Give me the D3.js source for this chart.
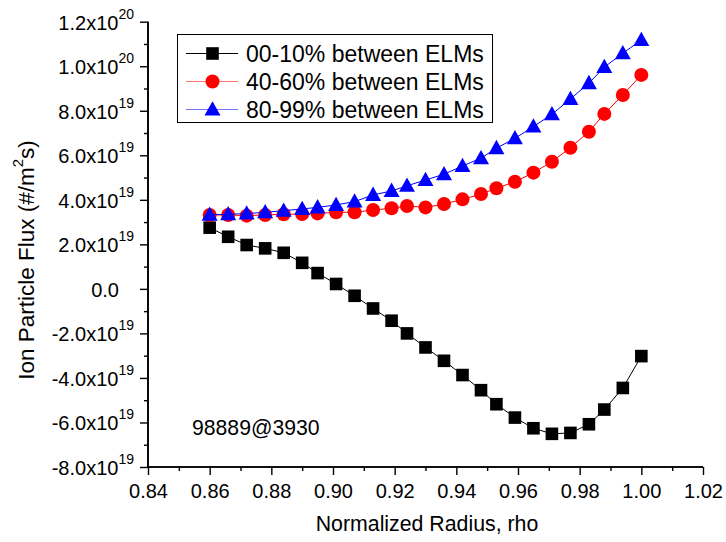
<!DOCTYPE html>
<html><head><meta charset="utf-8">
<script src="https://cdn.jsdelivr.net/npm/d3@7"></script>
<style>
body{margin:0;background:#fff;}
text{font-family:"Liberation Sans",Arial,sans-serif;fill:#000;}
</style></head>
<body><svg id="c" width="726" height="542"></svg>
<script>
const rho = [0.860,0.866,0.872,0.878,0.884,0.890,0.895,0.901,0.907,0.913,0.919,0.924,0.930,0.936,0.942,0.948,0.953,0.959,0.965,0.971,0.977,0.983,0.988,0.994,1.000];
const flux00_10 = [2.75e19,2.34e19,1.97e19,1.82e19,1.62e19,1.17e19,0.71e19,0.22e19,-0.31e19,-0.88e19,-1.43e19,-2.00e19,-2.63e19,-3.23e19,-3.87e19,-4.55e19,-5.18e19,-5.78e19,-6.26e19,-6.51e19,-6.47e19,-6.08e19,-5.42e19,-4.45e19,-3.02e19];
const flux40_60 = [3.32e19,3.32e19,3.29e19,3.32e19,3.35e19,3.36e19,3.39e19,3.44e19,3.44e19,3.54e19,3.62e19,3.72e19,3.66e19,3.81e19,4.02e19,4.26e19,4.52e19,4.81e19,5.22e19,5.71e19,6.34e19,7.06e19,7.86e19,8.71e19,9.61e19];
const flux80_99 = [3.33e19,3.35e19,3.38e19,3.44e19,3.51e19,3.59e19,3.66e19,3.77e19,3.92e19,4.22e19,4.40e19,4.63e19,4.89e19,5.15e19,5.52e19,5.87e19,6.32e19,6.76e19,7.29e19,7.84e19,8.53e19,9.24e19,9.96e19,10.58e19,11.18e19];
const seriesNames = ["00-10% between ELMs","40-60% between ELMs","80-99% between ELMs"];
const xTicks = [0.84,0.86,0.88,0.90,0.92,0.94,0.96,0.98,1.00,1.02];
const yTicks = [-8e19,-6e19,-4e19,-2e19,0,2e19,4e19,6e19,8e19,10e19,12e19];
const xTitle = "Normalized Radius, rho";
const annotation = "98889@3930";

const svg = d3.select("#c");
const x = d3.scaleLinear().domain([0.84,1.02]).range([148,703]);
const y = d3.scaleLinear().domain([-8e19,12e19]).range([467,21.7]);

const series = [
  {name:seriesNames[0], vals:flux00_10, color:"#000000", line:"#000000", shape:"square"},
  {name:seriesNames[1], vals:flux40_60, color:"#ff0000", line:"#ff0000", shape:"circle"},
  {name:seriesNames[2], vals:flux80_99, color:"#0000ff", line:"#0000ff", shape:"triangle"}
];

function marker(g, shape, color){
  if(shape==="square") g.append("rect").attr("x",-6.3).attr("y",-6.3).attr("width",12.6).attr("height",12.6).attr("fill",color);
  else if(shape==="circle") g.append("circle").attr("r",7).attr("fill",color);
  else g.append("path").attr("d","M0,-8.3L8,6L-8,6Z").attr("fill",color);
}

// axes
const xMinor = d3.range(0.85,1.02,0.02);
const yMinor = d3.range(-7e19,12e19,2e19);
const ax = svg.append("g").attr("transform","translate(0,467)");
ax.call(d3.axisBottom(x).tickValues(xTicks).tickSize(8).tickFormat(d=>d3.format(".2f")(d)));
ax.append("g").call(d3.axisBottom(x).tickValues(xMinor).tickSize(4).tickFormat(""));
ax.selectAll(".domain").attr("stroke-width",1.6);
ax.selectAll("line").attr("stroke-width",1.4);
ax.selectAll("text").attr("font-size",20).attr("dy","0").attr("y",31).attr("font-family","Liberation Sans, Arial, sans-serif");
ax.selectAll(".domain").attr("d","M148,0H703");

const ay = svg.append("g").attr("transform","translate(148,0)");
ay.call(d3.axisLeft(y).tickValues(yTicks).tickSize(8).tickFormat(""));
ay.append("g").call(d3.axisLeft(y).tickValues(yMinor).tickSize(4).tickFormat(""));
ay.selectAll(".domain").attr("stroke-width",1.6).attr("d","M0,467V21.7");
ay.selectAll("line").attr("stroke-width",1.4);
yTicks.forEach(v=>{
  const t = svg.append("text").attr("x",134).attr("y",y(v)+8).attr("text-anchor","end").attr("font-size",20);
  if(v===0){ t.attr("x",119).text("0.0"); return; }
  const e = Math.floor(Math.log10(Math.abs(v)));
  const m = v/Math.pow(10,e);
  t.append("tspan").text(m.toFixed(1)+"x10");
  t.append("tspan").attr("font-size",14).attr("dy",-11).text(e);
});

// lines and markers
series.forEach(s=>{
  const pts = rho.map((r,i)=>[r,s.vals[i]]);
  svg.append("path").datum(pts).attr("fill","none").attr("stroke",s.line).attr("stroke-width",1)
    .attr("d",d3.line().x(d=>x(d[0])).y(d=>y(d[1])));
  const mg = svg.append("g");
  pts.forEach(p=>{
    const g = mg.append("g").attr("transform",`translate(${x(p[0])},${y(p[1])})`);
    marker(g,s.shape,s.color);
  });
});

// legend
const lg = svg.append("g");
lg.append("rect").attr("x",177.5).attr("y",34.5).attr("width",315).attr("height",88).attr("fill","#fff").attr("stroke","#000").attr("stroke-width",1);
series.forEach((s,i)=>{
  const cy = 53.5 + i*28;
  lg.append("line").attr("x1",186).attr("x2",238).attr("y1",cy).attr("y2",cy).attr("stroke",s.line).attr("stroke-width",1).attr("stroke-opacity",s.shape==="square"?1:0.55);
  const g = lg.append("g").attr("transform",`translate(212.5,${cy})`);
  marker(g,s.shape,s.color);
  lg.append("text").attr("x",246).attr("y",cy+8).attr("font-size",23).text(s.name);
});

// annotation
svg.append("text").attr("x",192).attr("y",435).attr("font-size",21.2).text(annotation);

// titles
svg.append("text").attr("x",427).attr("y",531).attr("text-anchor","middle").attr("font-size",21.3).text(xTitle);
const yt = svg.append("text").attr("transform","translate(34,260) rotate(-90)").attr("text-anchor","middle").attr("font-size",22.5);
yt.append("tspan").text("Ion Particle Flux (#/m");
yt.append("tspan").attr("font-size",15).attr("dy",-11).text("2");
yt.append("tspan").attr("dy",11).text("s)");
</script></body></html>
